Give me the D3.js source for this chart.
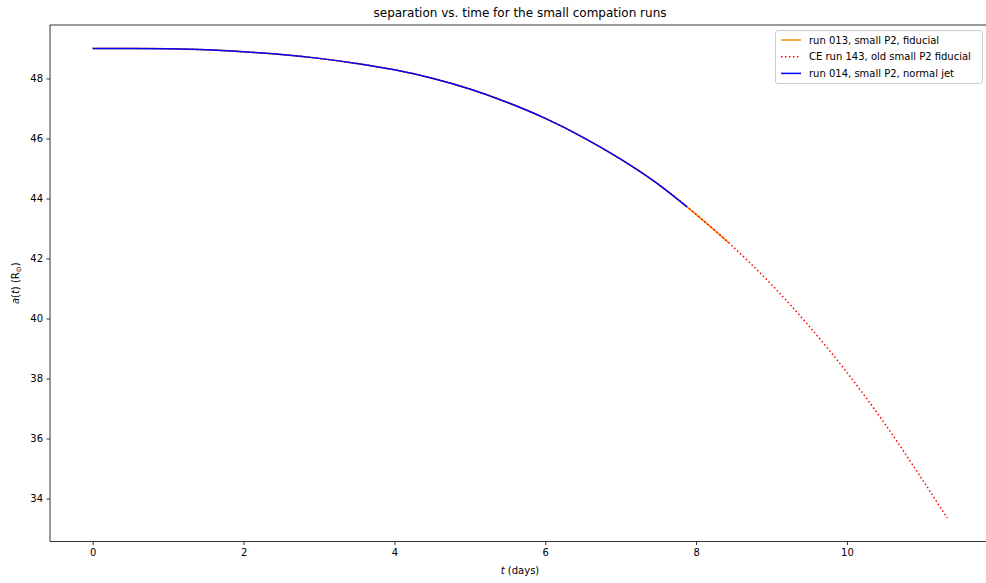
<!DOCTYPE html>
<html><head><meta charset="utf-8">
<script src="https://cdn.jsdelivr.net/npm/d3@7"></script>
<style>
html,body{margin:0;padding:0;background:#fff;overflow:hidden;}
svg{display:block;font-family:"DejaVu Sans",sans-serif;}
</style></head>
<body>
<svg id="chart" width="986" height="583"></svg>
<script>
// Data
const timeDays = [0, 0.5, 1, 1.5, 2, 2.5, 3, 3.5, 4, 4.5, 5, 5.5, 6, 6.5, 7, 7.5, 7.88, 8.43, 9, 9.5, 10, 10.5, 11, 11.33];
const separation = [49.00, 49.00, 48.99, 48.96, 48.89, 48.80, 48.67, 48.50, 48.29, 48.01, 47.65, 47.20, 46.67, 46.04, 45.31, 44.47, 43.72, 42.53, 41.13, 39.74, 38.20, 36.50, 34.63, 33.35];
const run013End = 8.43;  // orange series ends here
const run014End = 7.88;  // blue series ends here
const seriesNames = ["run 013, small P2, fiducial", "CE run 143, old small P2 fiducial", "run 014, small P2, normal jet"];
const xTicks = [0, 2, 4, 6, 8, 10];
const yTicks = [34, 36, 38, 40, 42, 44, 46, 48];
const titleText = "separation vs. time for the small compation runs";

const allPts = timeDays.map((t, i) => ({t, a: separation[i]}));
const series = [
  {name: seriesNames[0], pts: allPts.filter(p => p.t <= run013End), color: "#ff8c00", dash: null},
  {name: seriesNames[1], pts: allPts, color: "#ff0000", dash: "1.5,2.5"},
  {name: seriesNames[2], pts: allPts.filter(p => p.t <= run014End), color: "#0000ff", dash: null}
];

const svg = d3.select("#chart");
const L = 50, R = 990, T = 25, B = 541.5;
const tMin = 0, tMax = 11.33, aMin = 33.35, aMax = 49.0;
const xm = (tMax - tMin) * 0.05, ym = (aMax - aMin) * 0.05;
const x = d3.scaleLinear().domain([tMin - xm, tMax + xm]).range([L, R]);
const y = d3.scaleLinear().domain([aMin - ym, aMax + ym]).range([B, T]);

svg.append("defs").append("clipPath").attr("id", "clip")
  .append("rect").attr("x", L).attr("y", T).attr("width", R - L).attr("height", B - T);

const line = d3.line().x(d => x(d.t)).y(d => y(d.a)).curve(d3.curveMonotoneX);
const g = svg.append("g").attr("clip-path", "url(#clip)");
series.forEach(s => {
  g.append("path").attr("d", line(s.pts)).attr("fill", "none")
    .attr("stroke", s.color).attr("stroke-width", 1.5)
    .attr("stroke-dasharray", s.dash);
});

// Axes
const xAxis = d3.axisBottom(x).tickValues(xTicks).tickSize(3.5).tickPadding(3.5).tickFormat(d3.format("d"));
const yAxis = d3.axisLeft(y).tickValues(yTicks).tickSize(3.5).tickPadding(3.5).tickFormat(d3.format("d"));
const gx = svg.append("g").attr("transform", `translate(0,${B})`).call(xAxis);
const gy = svg.append("g").attr("transform", `translate(${L},0)`).call(yAxis);
[gx, gy].forEach(a => {
  a.select(".domain").remove();
  a.selectAll("line").attr("stroke", "#000").attr("stroke-width", 0.8);
  a.selectAll("text").attr("font-size", 10).attr("fill", "#000").attr("font-family", "DejaVu Sans, sans-serif");
});

// Spines (right spine lies beyond the visible canvas in the reference)
const sp = svg.append("g").attr("stroke", "#000").attr("stroke-width", 0.8);
sp.append("line").attr("x1", L).attr("x2", L).attr("y1", T).attr("y2", B);
sp.append("line").attr("x1", L).attr("x2", 986).attr("y1", T).attr("y2", T);
sp.append("line").attr("x1", L).attr("x2", 986).attr("y1", B).attr("y2", B);

// Title
svg.append("text").attr("x", (L + R) / 2).attr("y", 17).attr("text-anchor", "middle")
  .attr("font-size", 12).attr("fill", "#000").text(titleText);

// X label
const xl = svg.append("text").attr("x", (L + R) / 2).attr("y", 574).attr("text-anchor", "middle")
  .attr("font-size", 10).attr("fill", "#000");
xl.append("tspan").attr("font-style", "italic").text("t");
xl.append("tspan").text(" (days)");

// Y label
const yl = svg.append("text").attr("transform", `translate(19,${(T + B) / 2}) rotate(-90)`)
  .attr("text-anchor", "middle").attr("font-size", 10).attr("fill", "#000");
yl.append("tspan").attr("font-style", "italic").text("a");
yl.append("tspan").text("(");
yl.append("tspan").attr("font-style", "italic").text("t");
yl.append("tspan").text(")  (R");
yl.append("tspan").attr("font-size", 7).attr("dy", 2).text("⊙");
yl.append("tspan").attr("dy", -2).text(")");

// Legend
const lg = svg.append("g");
lg.append("rect").attr("x", 775.5).attr("y", 30.5).attr("width", 207).attr("height", 53).attr("rx", 2.5)
  .attr("fill", "#fff").attr("fill-opacity", 0.8).attr("stroke", "#cccccc").attr("stroke-width", 1);
series.forEach((s, i) => {
  const yy = 40 + i * 16.7;
  lg.append("line").attr("x1", 781).attr("x2", 801).attr("y1", yy).attr("y2", yy)
    .attr("stroke", s.color).attr("stroke-width", 1.5).attr("stroke-dasharray", s.dash);
  lg.append("text").attr("x", 809).attr("y", yy + 3.5).attr("font-size", 10).attr("fill", "#000").text(s.name);
});
</script>
</body></html>
